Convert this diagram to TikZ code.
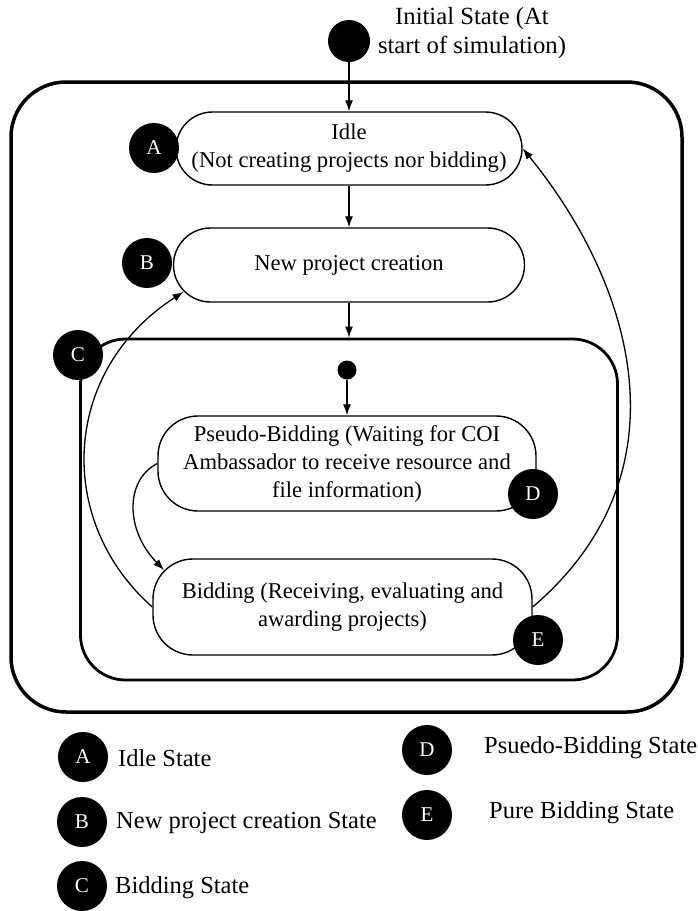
\documentclass[tikz,border=0pt]{standalone}
\usepackage{fontspec}
\setmainfont{Liberation Serif}
\usetikzlibrary{arrows.meta,calc}

\tikzset{
  state/.style={draw, line width=1.4pt, align=center, inner sep=0pt,
    font=\fontsize{22.6}{28}\selectfont},
  region/.style={draw, inner sep=0pt},
  tag/.style={circle, fill=black, text=white, minimum size=50pt, inner sep=0pt,
    font=\fontsize{21}{24}\selectfont},
  startdot/.style={circle, fill=black, inner sep=0pt},
  legend/.style={anchor=west, inner sep=0pt, font=\fontsize{24.5}{28}\selectfont},
  trans/.style={-{Latex[length=11pt,width=8pt]}, line width=1.3pt},
}

\begin{document}
\begin{tikzpicture}[x=1pt,y=-1pt]
\useasboundingbox (0,0) rectangle (698,911);

% --- Simulation region ---
\node[region, line width=3.5pt, rounded corners=55pt, minimum width=671pt, minimum height=630pt] (sim) at (346.5,397) {};

% --- Initial state ---
\node[startdot, minimum size=42pt] (init) at (349,41) {};
\node[font=\fontsize{24.7}{29}\selectfont, align=center, inner sep=0pt] (initlabel) at (472,33) {Initial State (At\\start of simulation)};

% --- Idle and project creation ---
\node[state, rounded corners=36.5pt, minimum width=346pt, minimum height=73pt] (idle) at (349,148.5) {Idle\\(Not creating projects nor bidding)};
\node[state, rounded corners=37pt, minimum width=351pt, minimum height=74pt] (newproj) at (349,265) {New project creation};

% --- Bidding region ---
\node[region, line width=2.8pt, rounded corners=45pt, minimum width=537pt, minimum height=341pt] (bidstate) at (349,509.5) {};
\node[startdot, minimum size=19pt] (bidinit) at (347,370) {};
\node[state, rounded corners=40pt, minimum width=378pt, minimum height=95pt] (pseudo) at (347,463.5) {Pseudo-Bidding (Waiting for COI\\Ambassador to receive resource and\\file information)};
\node[state, rounded corners=40pt, minimum width=379pt, minimum height=96pt] (bidding) at (342.5,607) {Bidding (Receiving, evaluating and\\awarding projects)};

% --- Letters ---
\node[tag] (tagA) at (154,148) {A};
\node[tag] (tagB) at (147,263) {B};
\node[tag] (tagC) at (78,355) {C};
\node[tag] (tagD) at (533,494) {D};
\node[tag] (tagE) at (538,640) {E};

% --- Transitions ---
\draw[trans] (init.south) -- (idle.north);
\draw[trans] (idle.south) -- (newproj.north);
\draw[trans] (newproj.south) -- (bidstate.north);
\draw[trans] (bidinit.south) -- (pseudo.north);
\draw[trans] (pseudo.west) .. controls (125,480) and (125,530) .. ($(bidding.north west)+(11.7,11.7)$);
\draw[trans] (bidding.west) .. controls (54,520) and (62,370) .. ($(newproj.south west)+(10.8,-10.8)$);
\draw[trans] (bidding.east) .. controls (693,470) and (630,280) .. (idle.east);

% --- Legend ---
\node[tag] (keyA) at (83,757) {A};
\node[legend] (keyAtext) at (118,758) {Idle State};
\node[tag] (keyB) at (82,822) {B};
\node[legend] (keyBtext) at (116,823) {New project creation State};
\node[tag] (keyC) at (82,886) {C};
\node[legend] (keyCtext) at (115,888) {Bidding State};
\node[tag] (keyD) at (427,750) {D};
\node[legend] (keyDtext) at (484,748) {Psuedo-Bidding State};
\node[tag] (keyE) at (427,815) {E};
\node[legend] (keyEtext) at (489,813) {Pure Bidding State};

\end{tikzpicture}
\end{document}
